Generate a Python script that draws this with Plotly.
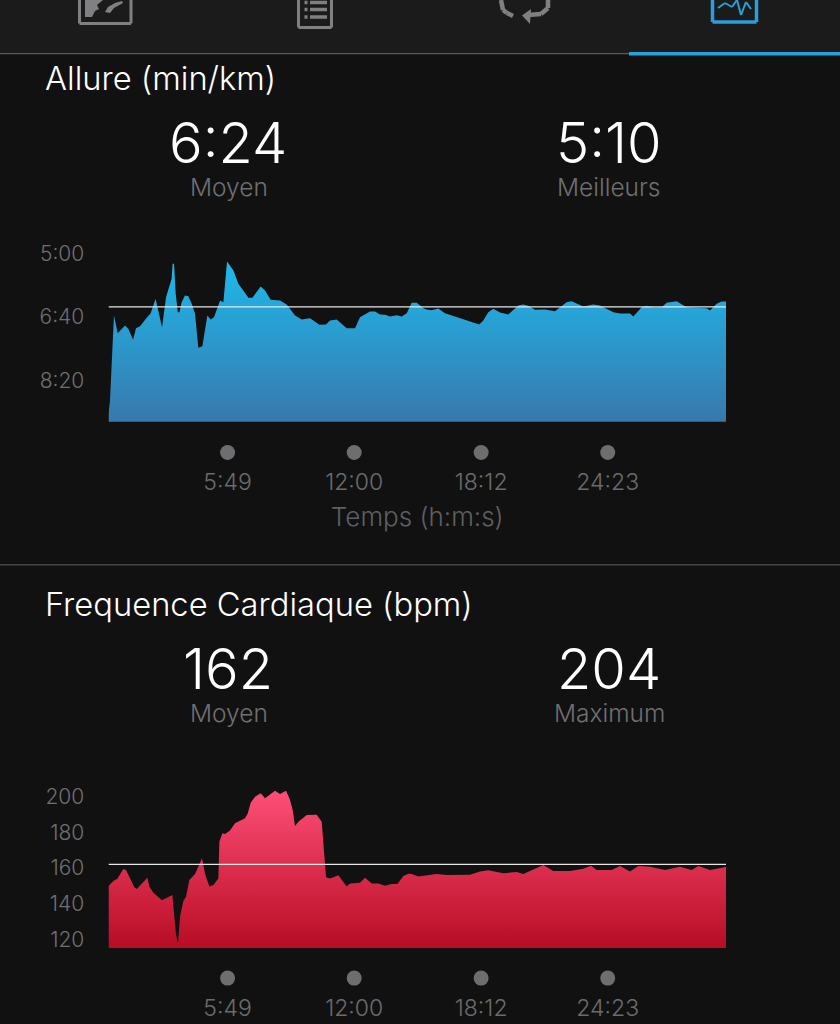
import plotly.graph_objects as go

W, H = 840, 1024
BG = "#111112"
FONT = "Inter"

# ---------- data ----------
pace_title = "Allure (min/km)"
pace_avg_text, pace_best_text = "6:24", "5:10"
pace_avg = 384
pace_floor = 565
pace_time = [0, 0, 4.4, 16, 27, 48.4, 58, 72, 80.6, 92.4, 112, 123.6, 138, 146, 157, 168.6, 185, 188, 192, 197, 203, 208,
             214.5, 224, 234, 244, 253.6, 263.3, 275, 289.7, 299.5, 309.2, 327, 336.6, 347.4, 366, 380.6, 410, 421.6,
             446, 458.7, 475.3, 502.7, 522.2, 546.6, 566.2, 590.6, 618, 637.5, 649.2, 668.8, 698, 722.5, 737, 766.5,
             781, 795.8, 810.4, 825, 844.6, 859.3, 874, 888.6, 903.3, 922.8, 932, 947, 966.4, 986, 1039.7, 1086.6,
             1098.3, 1113, 1127.6, 1147.2, 1171.6, 1201, 1215.6, 1230.2, 1249.8, 1279, 1308.4, 1342.6, 1357.3, 1391.4,
             1420.7, 1440.3, 1479.4, 1499, 1528.2, 1538, 1562.4, 1577, 1596.6, 1621, 1635.7, 1665, 1694.3, 1753,
             1762.7, 1782.2, 1797, 1809.6]
pace_vals = [565, 552.5, 531.5, 397.6, 425.5, 413.4, 418.6, 436, 417.6, 414.4, 401.3, 394, 371.4, 389.8, 416, 368.8,
             339.9, 316.3, 316.3, 363.5, 392.4, 392.4, 376.6, 366.1, 367.2, 379.3, 395, 448.6, 445.9, 397.6, 403.9,
             400.3, 374, 376.6, 312.6, 326.8, 347.8, 369.8, 369.8, 352, 358.3, 373, 374, 380.3, 397.6, 403.9, 401.8,
             412.3, 411.8, 405.5, 403.9, 417.6, 417.6, 400.3, 391.3, 391.3, 396, 396.6, 399.2, 397.1, 399.2, 394,
             377.7, 377.7, 386, 388.2, 389.2, 386.6, 394, 403.4, 411.8, 405.5, 392.4, 387.1, 392.9, 396, 381.9, 380.3,
             382.4, 388.7, 388.2, 390.8, 376.6, 375, 383.5, 380.3, 381.9, 392.4, 394.5, 394.5, 399.2, 384.5, 382.4,
             384.5, 384.5, 377.7, 375, 384.5, 386, 389.8, 379.3, 375.6, 375.6]
pace_ticks = [300, 400, 500]
pace_ticktext = ["5:00", "6:40", "8:20"]

hr_title = "Frequence Cardiaque (bpm)"
hr_avg_text, hr_max_text = "162", "204"
hr_avg = 162
hr_floor = 115.3
hr_time = [0, 14.2, 25.9, 43.5, 51.3, 63, 75.7, 82.6, 97.2, 113.8, 119.7, 131.4, 156.8, 175.4, 187.1, 192, 197.9, 203.7,
           209.6, 219.4, 227.2, 237, 253.6, 263.3, 274.1, 282.9, 295.6, 307.3, 322, 324.9, 333.7, 341.5, 356.1, 370.8,
           400.1, 408, 416.7, 429.4, 446, 458.7, 488, 502.7, 520.3, 532, 539.8, 546.6, 556.4, 580.9, 610.2, 624.8,
           629.7, 637.5, 649.2, 673.7, 698, 707.9, 737.2, 751.8, 771.4, 790.9, 810.4, 830, 846.6, 864.2, 878.8, 888.6,
           908.1, 927.7, 942, 961.5, 990.9, 1039.7, 1059.3, 1088.6, 1113, 1157, 1176.5, 1196, 1215.6, 1249.8, 1274.2,
           1303.5, 1352.4, 1391.4, 1414, 1430.5, 1474.5, 1499, 1528.2, 1552.6, 1586.8, 1630.8, 1655.2, 1674.8, 1709,
           1728.5, 1762.7, 1787.1, 1809.6]
hr_vals = [150, 152.8, 154.05, 159.45, 158.9, 154.2, 149.2, 148.3, 151.4, 154.6, 149.6, 146.2, 142, 144, 144.9, 134.7,
           122.6, 117.9, 132.8, 141.6, 144, 153.3, 156.7, 160.8, 165.4, 156.7, 149.6, 150.5, 154.2, 174.7, 179.4, 179,
           180.9, 185, 187.75, 190.5, 196.5, 199.85, 201.7, 198.9, 203.2, 201.35, 203.2, 198, 192.4, 183.5, 185.9,
           189.6, 189.8, 185.9, 172, 154.8, 154.2, 155.9, 149.6, 151.4, 151.8, 154.6, 151.4, 151.4, 150.1, 151, 151,
           155.5, 156.8, 156.6, 155.2, 155.9, 156.1, 156.7, 156.1, 156.5, 156.3, 158.1, 158.7, 157, 157.2, 157.8, 156.7,
           159.6, 161.7, 158.3, 158.3, 159.6, 161.3, 158.9, 158.9, 161.1, 158, 161.1, 160.75, 158.9, 160, 160.75, 158.9,
           161.1, 158.9, 160, 160.6]
hr_ticks = [120, 140, 160, 180, 200]

time_ticks = [349, 720, 1092, 1463]
time_labels = ["5:49", "12:00", "18:12", "24:23"]
x_end = 1809.6


def px(x):
    return x / W


def py(y):
    return 1 - y / H


fig = go.Figure()


def area(xname, yname, t, v, floor, avg, dot_y, c_low, c_high, grad_low, grad_high):
    fig.add_trace(go.Scatter(
        x=t + [t[-1], t[0]], y=v + [floor, floor], xaxis=xname, yaxis=yname,
        mode="lines", line=dict(width=0), fill="toself", hoverinfo="skip",
        fillgradient=dict(type="vertical", start=grad_low, stop=grad_high,
                          colorscale=[[0, c_low], [1, c_high]]),
        showlegend=False))
    fig.add_trace(go.Scatter(
        x=[t[0], t[-1]], y=[avg, avg], xaxis=xname, yaxis=yname, mode="lines",
        line=dict(color="#e8e8e8", width=1.3), hoverinfo="skip", showlegend=False))
    fig.add_trace(go.Scatter(
        x=time_ticks, y=[dot_y] * 4, xaxis=xname, yaxis=yname, mode="markers",
        marker=dict(color="#6e6e70", size=15), hoverinfo="skip", showlegend=False))


area("x", "y", pace_time, pace_vals, pace_floor, pace_avg, 613.4, "#3878ad", "#1dbcee", pace_floor, 300)
area("x2", "y2", hr_time, hr_vals, hr_floor, hr_avg, 98.5, "#b70c24", "#ff4f78", hr_floor, 204)

x_common = dict(range=[0, x_end], showgrid=False, zeroline=False, showline=False, tickmode="array",
                tickvals=time_ticks, ticktext=time_labels, ticks="outside", ticklen=1, tickcolor="rgba(0,0,0,0)",
                tickfont=dict(family=FONT, size=23, weight=300, color="#6b6b6d"))
y_common = dict(showgrid=False, zeroline=False, showline=False, tickmode="array", ticks="outside", ticklen=19,
                tickcolor="rgba(0,0,0,0)", tickfont=dict(family=FONT, size=21, weight=300, color="#6f6f71"))

fig.update_layout(
    width=W, height=H, margin=dict(l=0, r=0, t=0, b=0), paper_bgcolor=BG, plot_bgcolor="rgba(0,0,0,0)",
    showlegend=False, hovermode=False,
    xaxis=dict(domain=[px(108.5), px(726)], anchor="y",
               title=dict(text="Temps (h:m:s)", standoff=13, font=dict(family=FONT, size=26, weight=300, color="#5f5f61")),
               **x_common),
    yaxis=dict(domain=[py(460), py(240)], range=[625.2, 278.7], anchor="x", tickvals=pace_ticks,
               ticktext=pace_ticktext, **y_common),
    xaxis2=dict(domain=[px(108.5), px(726)], anchor="y2", **x_common),
    yaxis2=dict(domain=[py(986), py(770)], range=[94.08, 214.75], anchor="x2", tickvals=hr_ticks,
                ticktext=[str(v) for v in hr_ticks], **y_common),
)


def text(x, y, s, size, color="#ffffff", anchor="center", weight=300):
    fig.add_annotation(x=px(x), y=py(y), xref="paper", yref="paper", text=s, showarrow=False, xanchor=anchor,
                       yanchor="middle", font=dict(family=FONT, size=size, color=color, weight=weight))


text(43, 78, pace_title, 32.7, anchor="left", weight=300)
text(228, 143, pace_avg_text, 56)
text(609, 143, pace_best_text, 56)
text(229, 187, "Moyen", 24.5, "#6f6f71")
text(609, 187, "Meilleurs", 24.5, "#6f6f71")
text(43, 604, hr_title, 32.7, anchor="left", weight=300)
text(228, 669, hr_avg_text, 56)
text(609, 669, hr_max_text, 56)
text(229, 713, "Moyen", 24.5, "#6f6f71")
text(609, 713, "Maximum", 24.5, "#6f6f71")


def rect(x0, y0, x1, y1, fill, line=None, lw=0):
    fig.add_shape(type="rect", xref="paper", yref="paper", x0=px(x0), x1=px(x1), y0=py(y0), y1=py(y1),
                  fillcolor=fill, line=dict(color=line or fill, width=lw), layer="below")


def seg(points, color, lw):
    for (a, b), (c, d) in zip(points, points[1:]):
        fig.add_shape(type="line", xref="paper", yref="paper", x0=px(a), y0=py(b), x1=px(c), y1=py(d),
                      line=dict(color=color, width=lw), layer="above")


def blob(points, color):
    path = "M " + " L ".join(f"{px(a):.5f},{py(b):.5f}" for a, b in points) + " Z"
    fig.add_shape(type="path", xref="paper", yref="paper", path=path, fillcolor=color, line=dict(width=0), layer="above")


# navigation strip, dividers
rect(0, 0, 840, 53, "#1b1b1c")
rect(0, 53, 840, 54.3, "#5a5a5c")
rect(629, 52, 840, 55.4, "#2a9fd9")
rect(0, 564, 840, 565.4, "#444446")

# nav icons
icon = "#808082"
seg([(79.5, 0), (79.5, 23.5), (131, 23.5), (131, 0)], icon, 3)
blob([(85, 0), (85, 17), (92, 17), (95, 11), (99, 9), (97, 5), (103, 0)], icon)
blob([(105, 12), (108, 7), (115, 3), (122, 1), (123, 3), (114, 8), (110, 13)], icon)
seg([(298.5, 0), (298.5, 27.5), (331.5, 27.5), (331.5, 0)], icon, 3)
for yy in [2.5, 9.5, 17]:
    seg([(310, yy), (327, yy)], icon, 3.5)
    seg([(304.5, yy), (307.5, yy)], icon, 3.5)
seg([(501, 0), (503, 10), (507, 13), (513, 16)], icon, 4.5)
seg([(548, 0), (548, 8), (541, 14), (528, 15)], icon, 4.5)
blob([(531, 9), (522, 15.5), (530, 24)], icon)
seg([(712.5, 0), (712.5, 22), (756.5, 22), (756.5, 0)], "#2a9fd9", 3.5)
seg([(718, 8), (725, 3), (732, 7), (737, 0)], "#2a9fd9", 2)
seg([(737, 0), (741, 15), (746, 2), (751, 9)], "#2a9fd9", 2)

fig.write_html(
    "out.html",
    config=dict(displayModeBar=False),
    post_script="var s='margin:0;padding:0;overflow:hidden;height:1024px;background:%s';"
                "document.documentElement.style.cssText=s;document.body.style.cssText=s;" % BG,
)
